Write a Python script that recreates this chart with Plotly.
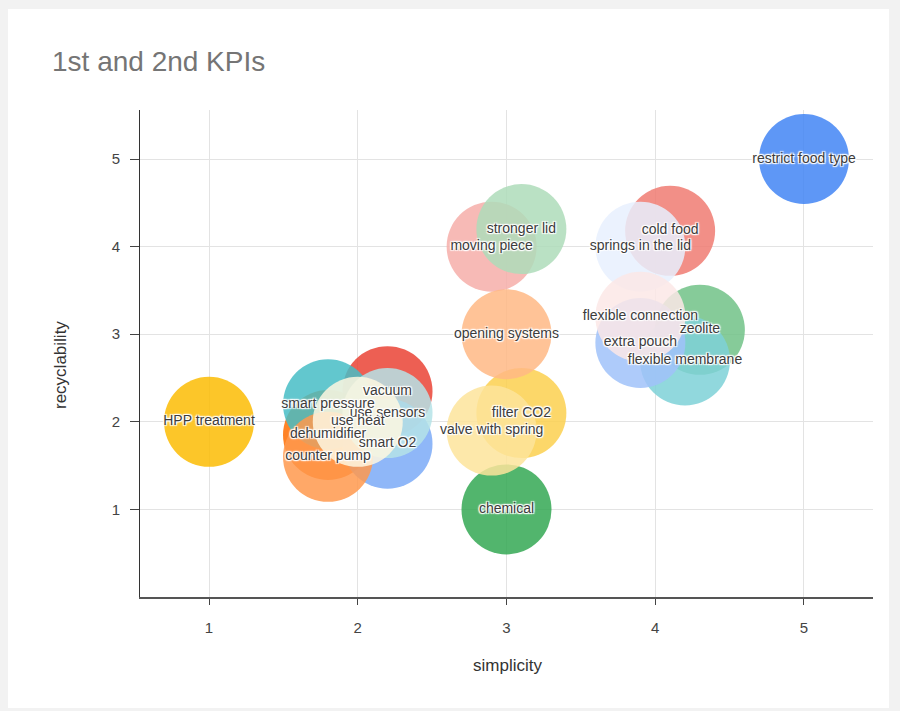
import plotly.graph_objects as go

# Solution ideas scored on the first two KPIs
ideas = [
    "restrict food type", "vacuum", "HPP treatment", "chemical", "dehumidifier",
    "smart pressure", "smart O2", "cold food", "filter CO2", "zeolite",
    "counter pump", "flexible membrane", "extra pouch", "moving piece",
    "valve with spring", "stronger lid", "opening systems", "use sensors",
    "springs in the lid", "flexible connection", "use heat",
]
simplicity = [5, 2.2, 1, 3, 1.8, 1.8, 2.2, 4.1, 3.1, 4.3, 1.8, 4.2, 3.9, 2.9,
              2.9, 3.1, 3, 2.2, 3.9, 3.9, 2]
recyclability = [5, 2.35, 2, 1, 1.85, 2.2, 1.75, 4.18, 2.1, 3.05, 1.6, 2.7, 2.9,
                 4, 1.9, 4.2, 3, 2.1, 4, 3.2, 2]
ticks = [1, 2, 3, 4, 5]

# Sheets-style series palette (base colours, then lighter tints)
palette = [
    "#4285F4", "#EA4335", "#FBBC04", "#34A853", "#FF6D01", "#46BDC6",
    "#7BAAF7", "#F07B72", "#FCD04F", "#71C287", "#FF994D", "#7ED1D7",
    "#A0C2F9", "#F6AEA9", "#FDE49B", "#AEDCBA", "#FFB885", "#B5E3E7",
    "#E8F0FE", "#FCE8E6", "#FEF7E0",
]

W, H = 900, 711
ML, MR, MT, MB = 140, 27, 110, 114
PW, PH = W - ML - MR, H - MT - MB
FONT = "Arial, Liberation Sans, sans-serif"


def px_x(p):
    return (p - ML) / PW


def px_y(p):
    return (H - MB - p) / PH


fig = go.Figure()

fig.add_trace(go.Scatter(
    x=simplicity, y=recyclability, mode="markers",
    marker=dict(size=90, color=palette[:len(ideas)], opacity=0.85,
                line=dict(width=0)),
    hoverinfo="skip", showlegend=False,
))

halo = ("1px 1px 1px #fff, -1px -1px 1px #fff, 1px -1px 1px #fff, "
        "-1px 1px 1px #fff, 0 0 3px #fff")
fig.add_trace(go.Scatter(
    x=simplicity, y=recyclability, mode="text", text=ideas,
    textposition="middle center",
    textfont=dict(family=FONT, size=14, color="#3c3c3c", shadow=halo),
    hoverinfo="skip", showlegend=False,
))

tick_font = dict(family=FONT, size=15, color="#444444")
title_font = dict(family=FONT, size=17, color="#333333")

fig.update_layout(
    width=W, height=H,
    margin=dict(l=ML, r=MR, t=MT, b=MB),
    paper_bgcolor="#f2f2f2",
    plot_bgcolor="#ffffff",
    title=dict(text="1st and 2nd KPIs", x=52 / W, xanchor="left",
               xref="container", y=1 - 61 / H, yref="container", yanchor="middle",
               font=dict(family=FONT, size=28, color="#757575")),
    xaxis=dict(range=[0.536, 5.464], tickvals=ticks, showgrid=True,
               gridcolor="#e3e3e3", gridwidth=1, zeroline=False,
               showline=True, linecolor="#555555", linewidth=2,
               ticks="outside", ticklen=6, tickcolor="#444444", tickwidth=1,
               ticklabelstandoff=10, tickfont=tick_font, fixedrange=True),
    yaxis=dict(range=[0, 5.56], tickvals=ticks, showgrid=True,
               gridcolor="#e3e3e3", gridwidth=1, zeroline=False,
               showline=True, linecolor="#333333", linewidth=1,
               ticks="outside", ticklen=9, tickcolor="#444444", tickwidth=1,
               ticklabelstandoff=7, tickfont=tick_font, fixedrange=True),
    shapes=[dict(type="rect", xref="paper", yref="paper",
                 x0=px_x(8), x1=px_x(889), y0=px_y(708), y1=px_y(9),
                 fillcolor="#ffffff", line=dict(width=0), layer="below")],
    annotations=[
        dict(text="simplicity", xref="paper", yref="paper",
             x=px_x(507), y=px_y(665), showarrow=False,
             xanchor="center", yanchor="middle", font=title_font),
        dict(text="recyclability", xref="paper", yref="paper",
             x=px_x(60), y=px_y(365), showarrow=False, textangle=-90,
             xanchor="center", yanchor="middle", font=title_font),
    ],
)

fig.write_html("out.html")
